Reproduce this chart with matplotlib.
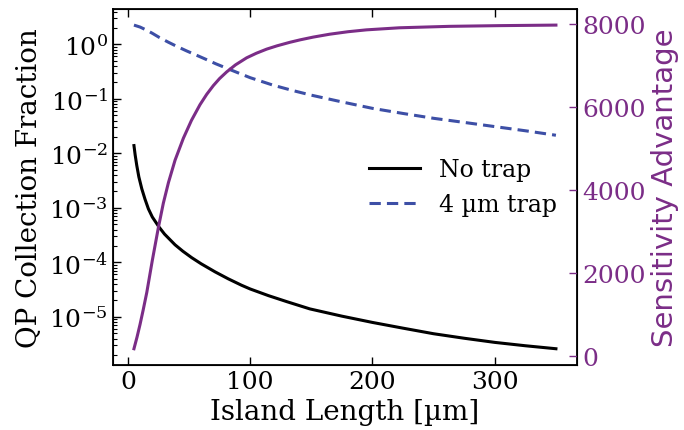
import matplotlib
matplotlib.use("Agg")
import matplotlib.pyplot as plt

plt.rcParams["font.family"] = ["DejaVu Serif"]
plt.rcParams["mathtext.fontset"] = "dejavuserif"

# Island length [µm] and QP collection fraction without a trap
length_no_trap = [5, 6, 7.3, 9, 11.4, 14, 16.8, 20, 25.5, 30, 38.6, 45, 52.2, 60,
                  71.3, 82, 93, 100, 115, 130, 148.8, 175, 200, 225, 250, 275,
                  300, 325, 350]
frac_no_trap = [1.39e-2, 9.3e-3, 6.0e-3, 3.7e-3, 2.24e-3, 1.45e-3, 9.6e-4, 6.8e-4,
                4.45e-4, 3.3e-4, 2.1e-4, 1.6e-4, 1.22e-4, 9.4e-5, 6.7e-5, 5.0e-5,
                3.8e-5, 3.25e-5, 2.45e-5, 1.9e-5, 1.4e-5, 1.03e-5, 7.9e-6, 6.2e-6,
                4.9e-6, 4.05e-6, 3.4e-6, 2.95e-6, 2.6e-6]

# QP collection fraction with a 4 µm trap
length_trap = [5, 10, 15, 20, 26, 33, 40, 48, 56, 64, 72, 83.5, 100, 118.9, 135,
               150, 175, 200, 225, 250, 275, 300, 325, 350]
frac_trap = [2.26, 2.08, 1.84, 1.6, 1.33, 1.1, 0.92, 0.76, 0.635, 0.53, 0.44,
             0.345, 0.245, 0.178, 0.142, 0.117, 0.088, 0.067, 0.054, 0.044, 0.037,
             0.031, 0.026, 0.0215]

# Sensitivity advantage of the trap
length_adv = [5, 7.5, 10, 12.5, 15.5, 20, 25, 29, 33.2, 38.6, 45.4, 52, 59, 64.5,
              69.9, 75, 80.8, 88, 97.1, 105, 113.5, 122, 132.5, 141, 151.5, 165,
              180, 195, 222, 263, 304, 350]
advantage = [170, 450, 760, 1100, 1530, 2300, 3100, 3680, 4180, 4720, 5250, 5680,
             6060, 6310, 6520, 6690, 6850, 7020, 7190, 7300, 7400, 7480, 7565,
             7625, 7690, 7760, 7820, 7865, 7915, 7950, 7967, 7980]

purple = "#7b2d87"
blue = "#3d4fa6"

fig = plt.figure(figsize=(6.84, 4.31), dpi=100)
ax = fig.add_axes([0.165, 0.151, 0.6786, 0.826])

l1, = ax.plot(length_no_trap, frac_no_trap, color="black", lw=2.2, label="No trap")
l2, = ax.plot(length_trap, frac_trap, color=blue, lw=2.2, ls=(0, (3.7, 2.0)),
              label="4 µm trap")
ax.set_yscale("log")
ax.set_xticks([0, 100, 200, 300])
ax.set_yticks([1e-5, 1e-4, 1e-3, 1e-2, 1e-1, 1e0])
ax.tick_params(axis="both", which="major", direction="in", length=6, width=1,
               labelsize=18, top=True)
ax.tick_params(axis="y", which="minor", direction="in", length=3, width=0.8)
ax.set_xlabel("Island Length [µm]", fontsize=20)
ax.set_ylabel("QP Collection Fraction", fontsize=20)
for s in ax.spines.values():
    s.set_linewidth(1.3)

ax2 = ax.twinx()
ax2.plot(length_adv, advantage, color=purple, lw=2.2)
ax2.set_yticks([0, 2000, 4000, 6000, 8000])
ax2.tick_params(axis="y", direction="in", length=6, width=1, colors=purple,
                labelsize=18)
ax2.set_ylabel("Sensitivity Advantage", fontsize=21, color=purple,
               family="DejaVu Sans")

ax.legend(handles=[l1, l2], frameon=False, fontsize=17, loc="center left",
          bbox_to_anchor=(0.505, 0.5), handlelength=2.2)

fig.savefig("out.png", dpi=100)
